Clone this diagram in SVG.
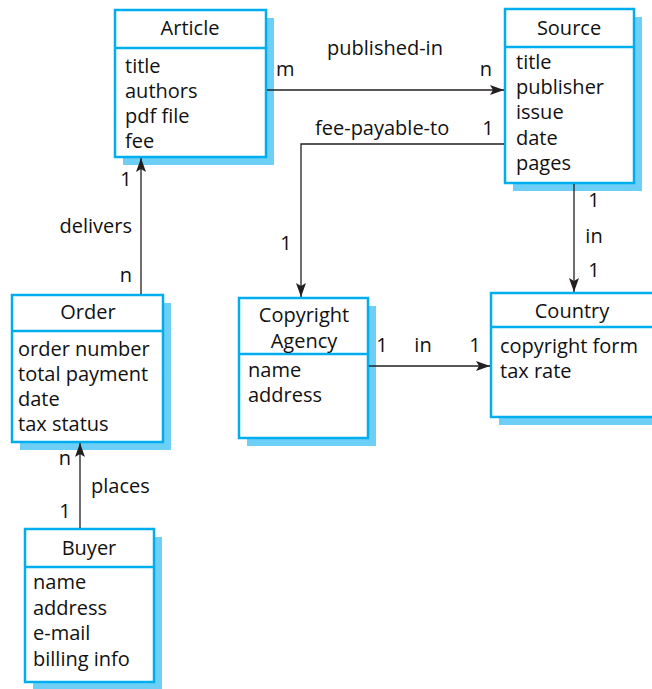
<svg xmlns="http://www.w3.org/2000/svg" width="652" height="689" viewBox="0 0 652 689">
<style>
.sh{fill:#6dcff6}
.bx{fill:#fff;stroke:#00aeef;stroke-width:2.5}
.dv{stroke:#00aeef;stroke-width:2.5}
text{font-family:"Open Sans","Noto Sans","Liberation Sans",sans-serif;font-size:20px;fill:#111}
.c{text-anchor:middle}
.ln{fill:none;stroke:#231f20;stroke-width:1.3}
</style>
<defs>
<marker id="ah" viewBox="0 0 14 10" refX="14" refY="5" markerWidth="14" markerHeight="10" markerUnits="userSpaceOnUse" orient="auto">
<path d="M0,0 L14,5 L0,10 L3,5 z" fill="#231f20"/>
</marker>
</defs>
<g id="article">
<rect class="sh" x="123" y="18" width="151" height="147"/>
<rect class="bx" x="115" y="10" width="151" height="147"/>
<line class="dv" x1="115" y1="48" x2="266" y2="48"/>
<text class="c" x="190" y="35">Article</text>
<text x="125" y="73">title</text>
<text x="125" y="98">authors</text>
<text x="125" y="123">pdf file</text>
<text x="125" y="148">fee</text>
</g>
<g id="source">
<rect class="sh" x="513" y="17" width="129" height="174"/>
<rect class="bx" x="505" y="9" width="129" height="174"/>
<line class="dv" x1="505" y1="47" x2="634" y2="47"/>
<text class="c" x="569" y="35">Source</text>
<text x="516" y="69">title</text>
<text x="516" y="94">publisher</text>
<text x="516" y="119">issue</text>
<text x="516" y="145">date</text>
<text x="516" y="170">pages</text>
</g>
<g id="order">
<rect class="sh" x="20" y="303" width="151" height="147"/>
<rect class="bx" x="12" y="295" width="151" height="147"/>
<line class="dv" x1="12" y1="331" x2="163" y2="331"/>
<text class="c" x="88" y="319">Order</text>
<text x="18" y="356">order number</text>
<text x="18" y="381">total payment</text>
<text x="18" y="406">date</text>
<text x="18" y="431">tax status</text>
</g>
<g id="copyright-agency">
<rect class="sh" x="247" y="306" width="129" height="140"/>
<rect class="bx" x="239" y="298" width="129" height="140"/>
<line class="dv" x1="239" y1="354" x2="368" y2="354"/>
<text class="c" x="304" y="322">Copyright</text>
<text class="c" x="304" y="348">Agency</text>
<text x="248" y="377">name</text>
<text x="248" y="402">address</text>
</g>
<g id="country">
<rect class="sh" x="499" y="301" width="165" height="124"/>
<rect class="bx" x="491" y="293" width="165" height="124"/>
<line class="dv" x1="491" y1="327" x2="656" y2="327"/>
<text class="c" x="572" y="318">Country</text>
<text x="500" y="353">copyright form</text>
<text x="500" y="378">tax rate</text>
</g>
<g id="buyer">
<rect class="sh" x="33" y="537" width="129" height="153"/>
<rect class="bx" x="25" y="529" width="129" height="153"/>
<line class="dv" x1="25" y1="567" x2="154" y2="567"/>
<text class="c" x="89" y="555">Buyer</text>
<text x="33" y="589">name</text>
<text x="33" y="615">address</text>
<text x="33" y="640">e-mail</text>
<text x="33" y="666">billing info</text>
</g>
<g id="connectors">
<path class="ln" d="M267,90 H504" marker-end="url(#ah)"/>
<path class="ln" d="M504,144 H301 V297" marker-end="url(#ah)"/>
<path class="ln" d="M141,294 V158" marker-end="url(#ah)"/>
<path class="ln" d="M80,528 V443" marker-end="url(#ah)"/>
<path class="ln" d="M574,184 V292" marker-end="url(#ah)"/>
<path class="ln" d="M369,366 H490" marker-end="url(#ah)"/>
</g>
<g id="labels">
<text class="c" x="385" y="55">published-in</text>
<text x="276" y="76">m</text>
<text class="c" x="486" y="76">n</text>
<text x="315" y="135">fee-payable-to</text>
<text class="c" x="488" y="135">1</text>
<text class="c" x="286" y="250">1</text>
<text class="c" x="126" y="186">1</text>
<text x="132" y="233" text-anchor="end">delivers</text>
<text class="c" x="126" y="282">n</text>
<text class="c" x="65" y="465">n</text>
<text x="91" y="493">places</text>
<text class="c" x="65" y="518">1</text>
<text class="c" x="594" y="207">1</text>
<text class="c" x="594" y="243">in</text>
<text class="c" x="594" y="277">1</text>
<text class="c" x="382" y="352">1</text>
<text class="c" x="423" y="352">in</text>
<text class="c" x="475" y="352">1</text>
</g>
</svg>
